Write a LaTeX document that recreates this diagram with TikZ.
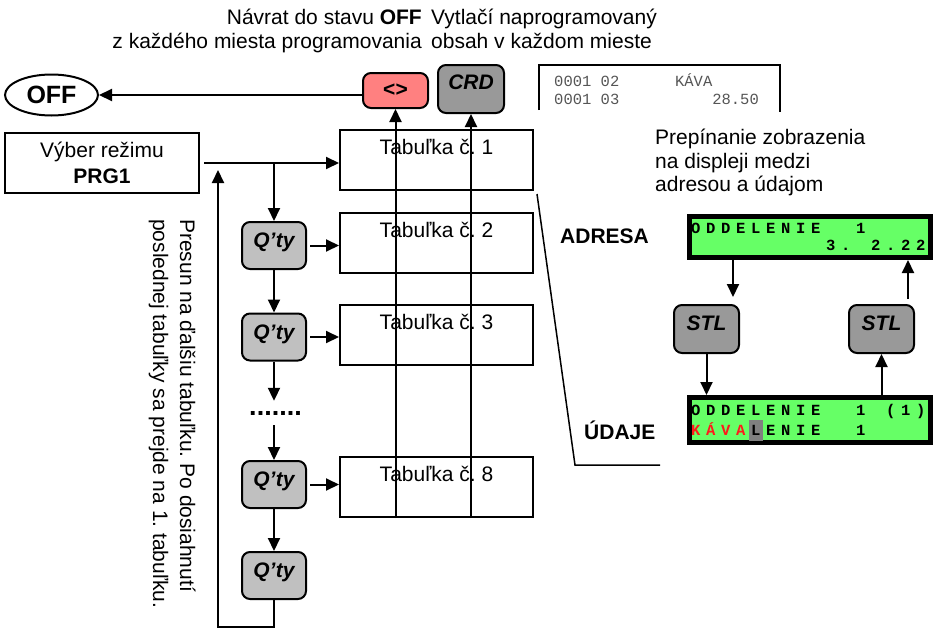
\documentclass[tikz,border=0pt]{standalone}
\usepackage{fontspec}
\setmainfont{Liberation Sans}
\setmonofont{Liberation Mono}
\usepackage{xcolor}
\usetikzlibrary{shapes.geometric, arrows.meta, positioning}

\makeatletter
\newcommand\lcdline[1]{\@tfor\lcdch:=#1\do{\makebox[15pt][c]{\lcdch}}}
\makeatother
\frenchspacing

\begin{document}
\begin{tikzpicture}[x=1pt, y=-1pt, font=\fontsize{21}{23.5}\selectfont,
    ln/.style={line width=2pt},
    arr/.style={line width=2pt, -{Triangle[length=13pt, width=12pt]}},
    tabbox/.style={draw, line width=2pt, minimum width=193pt, text height=18pt, text depth=30pt, inner xsep=0pt, inner ysep=6pt},
    key/.style={draw, line width=2pt, rounded corners=8pt, inner sep=0pt, minimum width=65pt, minimum height=48pt, font=\fontsize{21}{23.5}\selectfont\bfseries\itshape},
    lcd/.style={draw, line width=5pt, fill=lcdgreen, inner sep=0pt, minimum width=241pt},
    lcdtext/.style={anchor=base west, inner sep=0pt, font=\fontsize{15.5}{16}\selectfont\ttfamily\bfseries},
    note/.style={inner sep=0pt}]
  % Define colors
  \definecolor{keyred}{HTML}{FF8080}
  \definecolor{keydark}{HTML}{999999}
  \definecolor{keylight}{HTML}{C0C0C0}
  \definecolor{lcdgreen}{HTML}{66FF66}
  \definecolor{lcdred}{HTML}{FF1A1A}
  \definecolor{lcdcursor}{HTML}{808080}
  \definecolor{rcptgray}{HTML}{555555}

  \useasboundingbox (0,0) rectangle (937,629);

  % Top notes (anchored on the last line)
  \node[note, anchor=base east, align=right] (offnote) at (422,48) {Návrat do stavu \textbf{OFF}\\z každého miesta programovania};
  \node[note, anchor=base west, align=left] (crdnote) at (431,48) {Vytlačí naprogramovaný\\obsah v každom mieste};

  % OFF state and the two keys
  \node[draw, ellipse, line width=2pt, inner sep=0pt, minimum width=93pt, minimum height=41pt, font=\fontsize{25}{28}\selectfont\bfseries] (off) at (51.5,95) {OFF};
  \node[key, fill=keyred, minimum height=35pt, font=\fontsize{21}{23.5}\selectfont\bfseries] (lt) at (395.5,90.5) {<>};
  \node[key, fill=keydark, minimum width=66pt, text depth=14pt] (crd) at (471,89) {CRD};

  % Printed receipt
  \draw[ln] (539,110) -- (539,65) -- (780,65) -- (780,112);
  \node[note, anchor=base west, align=left, text=rcptgray, font=\fontsize{15.5}{18}\selectfont\ttfamily] (rcpt) at (554,104) {0001 02\ \ \ \ \ \ KÁVA\\0001 03\ \ \ \ \ \ \ \ \ \ 28.50};

  % Mode selection
  \node[draw, line width=2pt, minimum width=194pt, minimum height=60pt, align=center, font=\fontsize{21}{26}\selectfont] (vrb) at (102,163) {Výber režimu\\\textbf{PRG1}};

  % Tables
  \node[tabbox] (tab1) at (436.5,160) {Tabuľka č. 1};
  \node[tabbox] (tab2) at (436.5,243) {Tabuľka č. 2};
  \node[tabbox] (tab3) at (436.5,335) {Tabuľka č. 3};
  \node[tabbox] (tab8) at (436.5,487) {Tabuľka č. 8};

  % Q'ty keys
  \node[key, fill=keylight, minimum width=64pt, minimum height=47pt, text depth=10pt] (q1) at (274,245.5) {Q’ty};
  \node[key, fill=keylight, minimum width=64pt, minimum height=47pt, text depth=10pt] (q2) at (274,337) {Q’ty};
  \node[note, minimum height=24pt, font=\fontsize{27}{30}\selectfont\bfseries] (dots) at (275.5,413) {.......};
  \node[key, fill=keylight, minimum width=64pt, minimum height=47pt, text depth=10pt] (q3) at (274,484.5) {Q’ty};
  \node[key, fill=keylight, minimum width=64pt, minimum height=47pt, text depth=10pt] (q4) at (274,575.5) {Q’ty};

  % Note on the return path
  \node[note, rotate=-90, anchor=base west, align=left, font=\fontsize{21}{27}\selectfont] (loopnote) at (153,219) {Presun na ďalšiu tabuľku. Po dosiahnutí\\poslednej tabuľky sa prejde na 1. tabuľku.};

  % Connectors on the left
  \draw[arr] (off.east -| lt.west) -- (off.east);
  \draw[arr, shorten <=4pt] (vrb.east) -- (vrb.east -| tab1.west);
  \draw[arr] (vrb.east -| q1.north) -- (q1.north);
  \draw[arr] (q1.south) -- (q2.north);
  \draw[arr] (q2.south) -- (q2.south |- dots.north);
  \draw[arr] (q3.north |- dots.south) -- (q3.north);
  \draw[arr] (q3.south) -- (q4.north);
  \draw[arr, shorten <=3pt] (q1.east) -- (q1.east -| tab2.west);
  \draw[arr, shorten <=3pt] (q2.east) -- (q2.east -| tab3.west);
  \draw[arr, shorten <=3pt] (q3.east) -- (q3.east -| tab8.west);
  \coordinate (ret) at (218,627);
  \draw[arr, shorten >=7pt] (q4.south) |- (ret) -- (ret |- vrb.east);
  \draw[arr] (lt.south |- tab8.south) -- (lt.south);
  \draw[arr] (crd.south |- tab8.south) -- (crd.south);

  % Display switching
  \node[note, anchor=base west, align=left] (swnote) at (655,191.5) {Prepínanie zobrazenia\\na displeji medzi\\adresou a údajom};
  \node[note, anchor=base west, font=\fontsize{21}{23.5}\selectfont\bfseries] (adrlbl) at (560,243) {ADRESA};
  \node[note, anchor=base west, font=\fontsize{21}{23.5}\selectfont\bfseries] (udjlbl) at (584,439) {ÚDAJE};
  \draw[line width=1.5pt] (537,194) -- (575,465) -- (660,465);

  % Address display
  \node[lcd, minimum height=41pt] (adr) at (810,237) {};
  \node[lcdtext] (adr1) at (688,233) {\lcdline{ODDELENIE~~1}};
  \node[lcdtext] (adr2) at (688,250) {\lcdline{~~~~~~~~~3.~2.22}};

  % Data display
  \node[lcd, minimum height=45pt] (udj) at (810,420) {};
  \fill[lcdcursor] (749,420) rectangle (763,441);
  \node[lcdtext] (udj1) at (688,415) {\lcdline{ODDELENIE~~1~(1)}};
  \node[lcdtext] (udj2) at (688,435) {\lcdline{{\color{lcdred}K}{\color{lcdred}Á}{\color{lcdred}V}{\color{lcdred}A}LENIE~~1}};

  % STL keys
  \node[key, fill=keydark, text depth=12pt] (stlL) at (706.5,329) {STL};
  \node[key, fill=keydark, text depth=12pt] (stlR) at (881.5,329) {STL};
  \coordinate (stlLin) at ([xshift=-7pt]stlL.north east);
  \coordinate (stlRout) at ([xshift=-7pt]stlR.north east);
  \draw[arr, shorten >=7pt] (stlLin |- adr.south) -- (stlLin);
  \draw[arr] (stlL.south) -- (stlL.south |- udj.north);
  \draw[arr] (stlR.south |- udj.north) -- (stlR.south);
  \draw[arr, shorten <=5pt] (stlRout) -- (stlRout |- adr.south);
\end{tikzpicture}
\end{document}
